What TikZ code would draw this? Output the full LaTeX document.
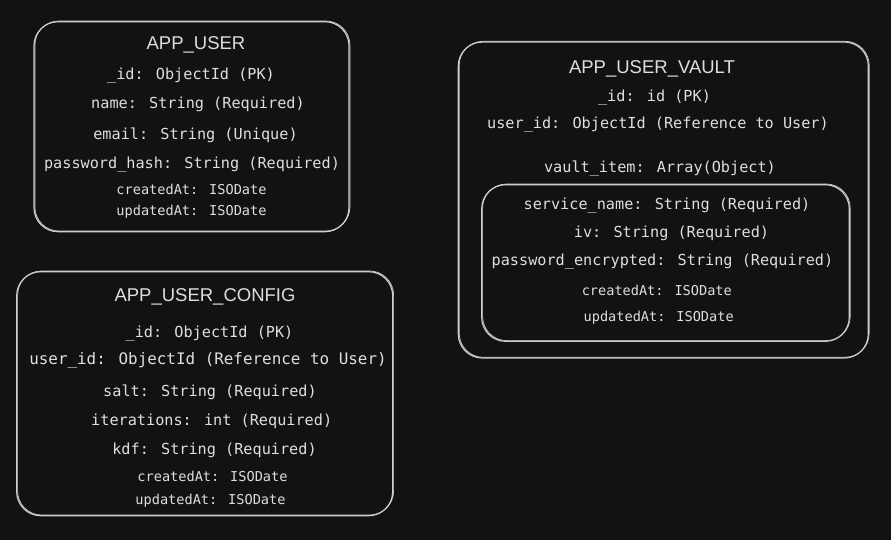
\documentclass[tikz,border=0pt]{standalone}
\usepackage{fontspec}
\newfontfamily\fieldfont{DejaVu Sans Mono}
\newfontfamily\titlefont{Liberation Sans}
\definecolor{bgc}{RGB}{18,18,19}
\definecolor{ink}{RGB}{222,222,222}
\definecolor{edge}{RGB}{205,205,205}
\tikzset{
  box/.style={draw=edge, line width=1.2pt, rounded corners=24pt, inner sep=0pt,
    postaction={draw=edge, line width=0.7pt, transform canvas={xshift=0.9pt,yshift=0.7pt}}},
  ttl/.style={anchor=base, inner sep=0pt, text=ink, font=\titlefont\fontsize{18.5}{20}\selectfont},
  fld/.style={anchor=base, inner sep=0pt, text=ink, font=\fieldfont\fontsize{15.2}{18}\selectfont},
  fldl/.style={anchor=base, inner sep=0pt, text=ink, font=\fieldfont\fontsize{15.9}{18}\selectfont},
  dte/.style={anchor=base, inner sep=0pt, text=ink, font=\fieldfont\fontsize{13.6}{16}\selectfont}
}
\begin{document}
\begin{tikzpicture}[x=1pt,y=-1pt]
\fill[bgc] (0,0) rectangle (891,540);
\useasboundingbox (0,0) rectangle (891,540);

% APP_USER
\node[box, minimum width=315pt, minimum height=210pt] (user) at (191.5,126.7) {};
\node[ttl] (userT) at (196,50) {APP\_USER};
\node[fld] (u1) at (191,80) {\_id: ObjectId (PK)};
\node[fld] (u2) at (198,109) {name: String (Required)};
\node[fld] (u3) at (195.5,140) {email: String (Unique)};
\node[fld] (u4) at (192,169) {password\_hash: String (Required)};
\node[dte] (u5) at (191.5,194) {createdAt: ISODate};
\node[dte] (u6) at (191.5,215) {updatedAt: ISODate};

% APP_USER_CONFIG
\node[box, minimum width=376pt, minimum height=244pt] (cfg) at (204.7,393.7) {};
\node[ttl] (cfgT) at (205,301) {APP\_USER\_CONFIG};
\node[fld] (c1) at (209.5,337.7) {\_id: ObjectId (PK)};
\node[fldl] (c2) at (208,364) {user\_id: ObjectId (Reference to User)};
\node[fld] (c3) at (210,396.7) {salt: String (Required)};
\node[fld] (c4) at (211.7,425.7) {iterations: int (Required)};
\node[fld] (c5) at (214.5,454.3) {kdf: String (Required)};
\node[dte] (c6) at (212.5,481) {createdAt: ISODate};
\node[dte] (c7) at (210.5,504) {updatedAt: ISODate};

% APP_USER_VAULT
\node[box, minimum width=410pt, minimum height=316pt] (vault) at (663.3,200) {};
\node[ttl] (vaultT) at (652,73.3) {APP\_USER\_VAULT};
\node[fld] (v1) at (654.5,101.3) {\_id: id (PK)};
\node[fld] (v2) at (658,129) {user\_id: ObjectId (Reference to User)};
\node[fld] (v3) at (660,173) {vault\_item: Array(Object)};
\node[box, minimum width=367.6pt, minimum height=156.6pt] (item) at (665.5,263) {};
\node[fld] (i1) at (667,209) {service\_name: String (Required)};
\node[fld] (i2) at (671.5,237) {iv: String (Required)};
\node[fld] (i3) at (662.5,265.3) {password\_encrypted: String (Required)};
\node[dte] (i4) at (656.8,295.3) {createdAt: ISODate};
\node[dte] (i5) at (658.7,321.3) {updatedAt: ISODate};
\end{tikzpicture}
\end{document}
